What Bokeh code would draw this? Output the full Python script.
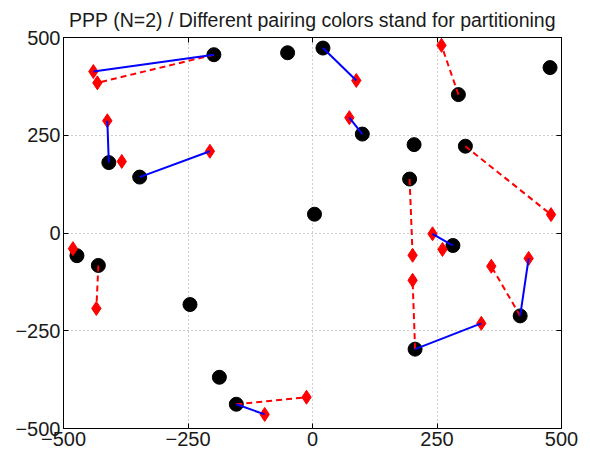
from bokeh.plotting import figure
from bokeh.models import Range1d, FixedTicker, LinearAxis, Grid
from bokeh.embed import file_html
from bokeh.resources import INLINE

# ---- data ----
circle_x = [-198, -50, 21, 477, 293, 100, 204, 307, 195, 4, -409, -347, -473, -430, -246, -187, -153, 282, 417, 206]
circle_y = [456, 461, 473, 423, 354, 253, 226, 222, 138, 48, 180, 143, -58, -83, -183, -369, -438, -32, -212, -297]

diamond_x = [-440, -432, -412, -383, -206, 88, 259, 74, 479, 241, 261, 201, 201, 359, 434, 339, -481, -434, -96, -12]
diamond_y = [413, 384, 287, 183, 209, 390, 480, 295, 47, -2, -42, -57, -121, -85, -65, -231, -40, -193, -464, -420]

# pairs: (circle index, diamond index)
blue_pairs = [(0, 0), (10, 2), (11, 4), (2, 5), (5, 7), (17, 9), (18, 14), (19, 15), (16, 18)]
red_pairs = [(0, 1), (4, 6), (7, 8), (8, 11), (19, 12), (18, 13), (13, 17), (16, 19)]

tick_values = [-500, -250, 0, 250, 500]
tick_labels = ["\u2212500", "\u2212250", "0", "250", "500"]

title_text = "PPP (N=2) / Different pairing colors stand for partitioning"

FONT = "Liberation Sans"

p = figure(width=590, height=457, output_backend="svg", toolbar_location=None,
           x_range=Range1d(-500, 500), y_range=Range1d(-500, 500),
           x_axis_type=None, y_axis_type=None,
           min_border_left=63, min_border_right=29, min_border_top=37, min_border_bottom=29)

p.title.text = title_text
p.title.align = "center"
p.title.text_font = FONT
p.title.text_font_size = "19.5px"
p.title.text_font_style = "normal"
p.title.text_color = "#1a1a1a"
p.title.standoff = 13

p.outline_line_color = "black"
p.outline_line_width = 1
p.outline_line_alpha = 1.0
p.background_fill_color = "white"
p.border_fill_color = "white"

labels = dict(zip(tick_values, tick_labels))

def make_axis(show_labels):
    ax = LinearAxis(ticker=FixedTicker(ticks=tick_values))
    ax.axis_line_color = None
    ax.major_tick_in = 5
    ax.major_tick_out = 0
    ax.minor_tick_line_color = None
    ax.major_tick_line_color = "black"
    if show_labels:
        ax.major_label_overrides = labels
        ax.major_label_text_font = FONT
        ax.major_label_text_font_size = "20px"
        ax.major_label_text_color = "#1a1a1a"
        ax.major_label_standoff = 3
    else:
        ax.major_label_text_font_size = "0px"
        ax.major_label_text_color = None
        ax.major_label_standoff = 0
    return ax

p.add_layout(make_axis(True), "below")
p.add_layout(make_axis(True), "left")
p.add_layout(make_axis(False), "above")
p.add_layout(make_axis(False), "right")

# grid lines
for dim in (0, 1):
    g = Grid(dimension=dim, ticker=FixedTicker(ticks=[-250, 0, 250]))
    g.grid_line_color = "#9a9a9a"
    g.grid_line_dash = "1 3"
    g.grid_line_width = 1
    p.add_layout(g)

# markers
p.scatter(circle_x, circle_y, marker="circle", size=14, fill_color="black", line_color="black")
p.scatter(diamond_x, diamond_y, marker="diamond", size=14, fill_color="red", line_color="red")

# pairing lines
p.segment(x0=[circle_x[c] for c, d in red_pairs], y0=[circle_y[c] for c, d in red_pairs],
          x1=[diamond_x[d] for c, d in red_pairs], y1=[diamond_y[d] for c, d in red_pairs],
          line_color="red", line_width=2, line_dash="6 4")
p.segment(x0=[circle_x[c] for c, d in blue_pairs], y0=[circle_y[c] for c, d in blue_pairs],
          x1=[diamond_x[d] for c, d in blue_pairs], y1=[diamond_y[d] for c, d in blue_pairs],
          line_color="blue", line_width=2)

open("out.html", "w").write(file_html(p, INLINE))
